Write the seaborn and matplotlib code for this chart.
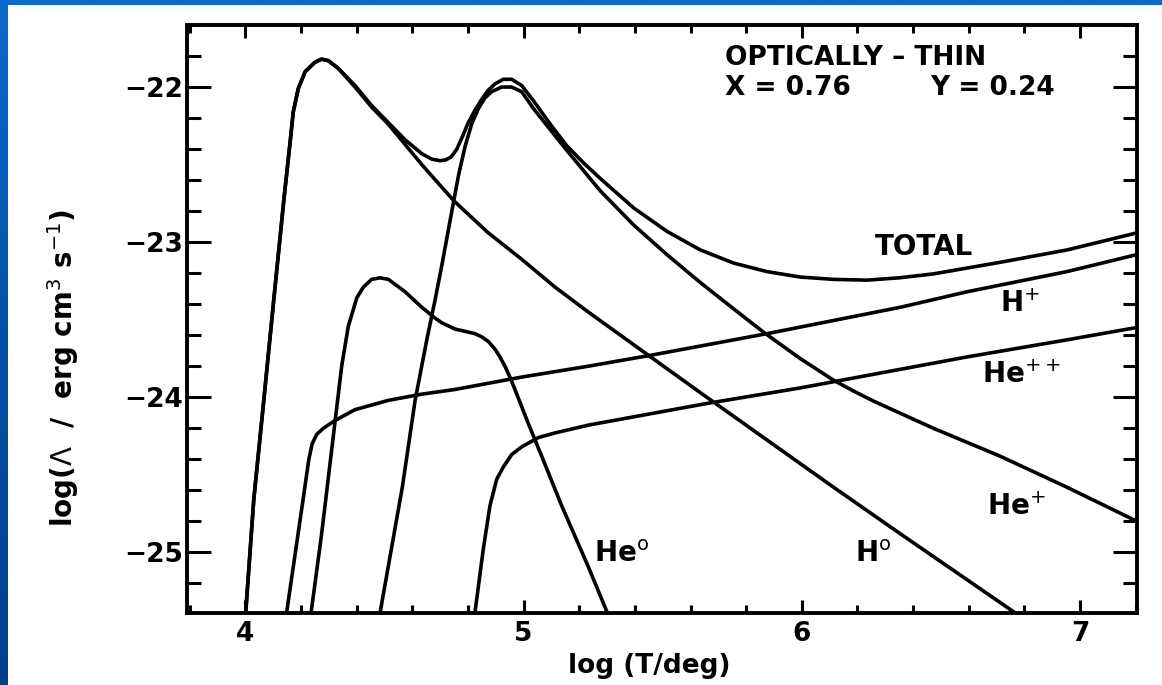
import matplotlib
matplotlib.use("Agg")
import matplotlib.pyplot as plt
import numpy as np
import seaborn as sns
from matplotlib.patches import Rectangle
from matplotlib.colors import LinearSegmentedColormap
from matplotlib.ticker import MultipleLocator

# Cooling curves: log T vs log Lambda
total_T = [4.001, 4.030, 4.066, 4.102, 4.138, 4.161, 4.172, 4.190, 4.215, 4.250, 4.274,
           4.298, 4.334, 4.394, 4.454, 4.514, 4.574, 4.634, 4.670, 4.700, 4.720, 4.740,
           4.760, 4.780, 4.801, 4.825, 4.849, 4.873, 4.897, 4.927, 4.957, 4.993, 5.036,
           5.096, 5.156, 5.216, 5.276, 5.396, 5.515, 5.635, 5.755, 5.875, 5.994, 6.114,
           6.234, 6.350, 6.472, 6.713, 6.954, 7.205]
total_L = [-25.39, -24.66, -24.02, -23.37, -22.73, -22.35, -22.16, -22.01, -21.90, -21.84, -21.82,
           -21.83, -21.88, -21.99, -22.12, -22.23, -22.34, -22.43, -22.465, -22.475, -22.47, -22.45,
           -22.40, -22.32, -22.23, -22.15, -22.08, -22.02, -21.98, -21.95, -21.95, -21.99, -22.09,
           -22.24, -22.38, -22.49, -22.59, -22.78, -22.93, -23.05, -23.135, -23.19, -23.225, -23.24,
           -23.245, -23.23, -23.205, -23.13, -23.05, -22.94]

h0_T = [4.001, 4.030, 4.066, 4.102, 4.138, 4.161, 4.172, 4.190, 4.215, 4.250, 4.274, 4.298,
        4.334, 4.394, 4.454, 4.514, 4.574, 4.634, 4.693, 4.753, 4.873, 4.993, 5.113, 5.232,
        5.635, 6.114, 6.354, 6.767]
h0_L = [-25.39, -24.66, -24.02, -23.37, -22.73, -22.35, -22.16, -22.01, -21.90, -21.84, -21.82, -21.83,
        -21.88, -22.00, -22.13, -22.24, -22.37, -22.50, -22.62, -22.74, -22.94, -23.11, -23.29, -23.45,
        -23.97, -24.58, -24.88, -25.39]

hep_T = [4.484, 4.564, 4.610, 4.652, 4.682, 4.706, 4.742, 4.766, 4.790, 4.813, 4.837, 4.861,
         4.885, 4.921, 4.957, 4.993, 5.036, 5.156, 5.276, 5.396, 5.515, 5.635, 5.755, 5.862,
         5.994, 6.114, 6.186, 6.258, 6.473, 6.713, 6.953, 7.205]
hep_L = [-25.39, -24.58, -24.02, -23.63, -23.37, -23.15, -22.80, -22.57, -22.38, -22.24, -22.14, -22.07,
         -22.03, -22.00, -22.00, -22.03, -22.14, -22.41, -22.67, -22.89, -23.08, -23.26, -23.43, -23.58,
         -23.75, -23.89, -23.96, -24.025, -24.20, -24.38, -24.58, -24.80]

he0_T = [4.236, 4.274, 4.310, 4.346, 4.370, 4.382, 4.400, 4.424, 4.454, 4.484, 4.514, 4.574,
         4.634, 4.682, 4.706, 4.753, 4.801, 4.825, 4.849, 4.873, 4.897, 4.915, 4.933, 4.951,
         4.969, 4.993, 5.017, 5.065, 5.137, 5.232, 5.301]
he0_L = [-25.39, -24.88, -24.34, -23.80, -23.54, -23.47, -23.36, -23.29, -23.24, -23.23, -23.24, -23.32,
         -23.42, -23.49, -23.52, -23.56, -23.58, -23.59, -23.61, -23.64, -23.69, -23.74, -23.80, -23.87,
         -23.95, -24.06, -24.17, -24.38, -24.70, -25.09, -25.39]

hp_T = [4.148, 4.178, 4.208, 4.228, 4.240, 4.256, 4.280, 4.322, 4.394, 4.514, 4.634, 4.753,
        4.993, 5.232, 5.455, 5.875, 6.354, 6.594, 6.953, 7.205]
hp_L = [-25.39, -25.02, -24.65, -24.40, -24.30, -24.24, -24.20, -24.15, -24.08, -24.02, -23.98, -23.95,
        -23.87, -23.80, -23.73, -23.59, -23.42, -23.32, -23.19, -23.08]

hepp_T = [4.825, 4.855, 4.879, 4.903, 4.927, 4.957, 4.993, 5.053, 5.113, 5.232, 5.659, 5.994,
          6.114, 6.354, 6.594, 6.953, 7.205]
hepp_L = [-25.39, -24.98, -24.70, -24.53, -24.45, -24.37, -24.32, -24.26, -24.23, -24.18, -24.04, -23.94,
          -23.90, -23.82, -23.74, -23.63, -23.55]

curves = [(total_T, total_L), (h0_T, h0_L), (hep_T, hep_L),
          (he0_T, he0_L), (hp_T, hp_L), (hepp_T, hepp_L)]

sns.set_style("ticks")
plt.rcParams['font.family'] = ['DejaVu Sans']
plt.rcParams['mathtext.fontset'] = 'dejavusans'
plt.rcParams.update({'text.color': 'black', 'axes.labelcolor': 'black',
                     'xtick.color': 'black', 'ytick.color': 'black'})

W, H = 1162, 685
fig = plt.figure(figsize=(W / 100, H / 100), dpi=100)

# slide background: blue border, white page
bg = fig.add_axes([0, 0, 1, 1], zorder=-10)
cmap = LinearSegmentedColormap.from_list('slide', ['#0b6acb', '#0052a8', '#003f8c'])
bg.imshow(np.linspace(0, 1, 256).reshape(-1, 1), aspect='auto', cmap=cmap,
          extent=[0, 1, 0, 1], origin='upper')
bg.axis('off')
fig.patches.append(Rectangle((8 / W, 0), 1 - 8 / W, (H - 5) / H, transform=fig.transFigure,
                             facecolor='white', edgecolor='none', zorder=-5))

ax = fig.add_axes([187 / W, 1 - 613 / H, (1137 - 187) / W, (613 - 25) / H])
ax.set_facecolor('white')

for T, L in curves:
    sns.lineplot(x=T, y=L, ax=ax, color='black', linewidth=2.6, sort=False,
                 estimator=None, legend=False)

ax.set_xlim(3.79, 7.205)
ax.set_ylim(-25.391, -21.60)
ax.xaxis.set_major_locator(MultipleLocator(1))
ax.xaxis.set_minor_locator(MultipleLocator(0.2))
ax.yaxis.set_major_locator(MultipleLocator(1))
ax.yaxis.set_minor_locator(MultipleLocator(0.2))

ax.tick_params(which='both', direction='in', top=True, right=True, color='black')
ax.tick_params(axis='y', which='major', length=17, width=2.2, labelsize=19, pad=3)
ax.tick_params(axis='y', which='minor', length=10, width=2.2)
ax.tick_params(axis='x', which='major', length=9.5, width=2.2, labelsize=19, pad=6)
ax.tick_params(axis='x', which='minor', length=6, width=2.2)
for t in ax.get_xticklabels() + ax.get_yticklabels():
    t.set_fontweight('bold')
for s in ax.spines.values():
    s.set_linewidth(2.8)
    s.set_color('black')

ax.set_xlabel('log (T/deg)', fontsize=19, fontweight='bold')
ax.xaxis.set_label_coords(0.487, -0.068)
ax.set_ylabel(r'log($\Lambda$  /  erg cm$^3$ s$^{-1}$)', fontsize=20, fontweight='bold')
ax.yaxis.set_label_coords(-0.112, 0.417)

lab = dict(fontsize=20, color='black', fontweight='bold')
ax.text(6.44, -23.03, 'TOTAL', ha='center', va='center', **lab)
ax.text(6.713, -23.45, r'H$^{+}$', ha='left', va='baseline', **lab)
ax.text(6.647, -23.91, r'He$^{++}$', ha='left', va='baseline', **lab)
ax.text(6.665, -24.76, r'He$^{+}$', ha='left', va='baseline', **lab)
ax.text(6.192, -25.06, r'H$^{\rm o}$', ha='left', va='baseline', **lab)
ax.text(5.252, -25.06, r'He$^{\rm o}$', ha='left', va='baseline', **lab)
top = dict(fontsize=19, color='black', fontweight='bold')
ax.text(5.725, -21.86, 'OPTICALLY – THIN', ha='left', va='baseline', **top)
ax.text(5.725, -22.05, 'X = 0.76', ha='left', va='baseline', **top)
ax.text(6.461, -22.05, 'Y = 0.24', ha='left', va='baseline', **top)

fig.savefig('out.png', dpi=100)
plt.close(fig)
